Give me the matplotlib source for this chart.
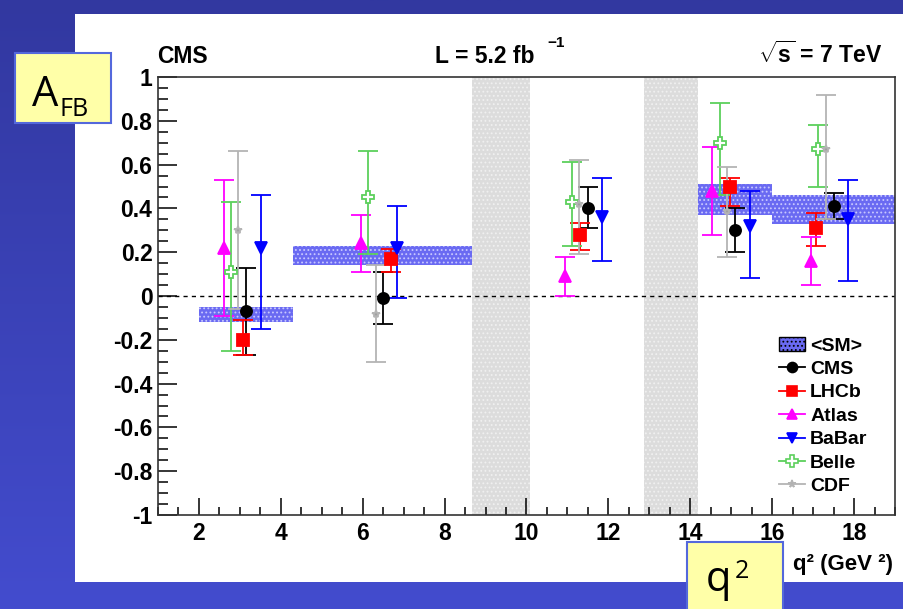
import numpy as np
import matplotlib
matplotlib.use("Agg")
import matplotlib.pyplot as plt
from matplotlib.patches import Rectangle, Patch
from matplotlib.lines import Line2D
from matplotlib.ticker import MultipleLocator

# forward-backward asymmetry per q2 bin, one set of arrays per experiment
cms_q2 = [3.15, 6.50, 11.49, 15.10, 17.51]
cms_afb = [-0.07, -0.01, 0.40, 0.30, 0.41]
cms_lo = [0.20, 0.12, 0.09, 0.10, 0.06]
cms_hi = [0.20, 0.12, 0.10, 0.10, 0.06]

lhcb_q2 = [3.08, 6.68, 11.30, 14.96, 17.08]
lhcb_afb = [-0.20, 0.17, 0.28, 0.50, 0.31]
lhcb_lo = [0.07, 0.06, 0.07, 0.09, 0.08]
lhcb_hi = [0.09, 0.045, 0.055, 0.04, 0.07]

atlas_q2 = [2.61, 5.96, 10.93, 14.54, 16.95]
atlas_afb = [0.22, 0.24, 0.09, 0.48, 0.16]
atlas_lo = [0.31, 0.13, 0.09, 0.20, 0.11]
atlas_hi = [0.31, 0.13, 0.09, 0.20, 0.11]

babar_q2 = [3.52, 6.84, 11.84, 15.45, 17.86]
babar_afb = [0.22, 0.22, 0.36, 0.32, 0.35]
babar_lo = [0.37, 0.23, 0.20, 0.24, 0.28]
babar_hi = [0.24, 0.19, 0.18, 0.16, 0.18]

belle_q2 = [2.79, 6.13, 11.10, 14.72, 17.13]
belle_afb = [0.11, 0.45, 0.43, 0.70, 0.67]
belle_lo = [0.36, 0.26, 0.20, 0.24, 0.17]
belle_hi = [0.32, 0.21, 0.18, 0.18, 0.11]

cdf_q2 = [2.96, 6.32, 11.28, 14.90, 17.31]
cdf_afb = [0.30, -0.08, 0.42, 0.39, 0.67]
cdf_lo = [0.36, 0.22, 0.23, 0.21, 0.32]
cdf_hi = [0.36, 0.22, 0.20, 0.20, 0.25]

# standard model prediction bands
sm_q2_lo = [2.0, 4.3, 14.18, 16.0]
sm_q2_hi = [4.3, 8.68, 16.0, 19.0]
sm_min = [-0.12, 0.14, 0.37, 0.33]
sm_max = [-0.05, 0.23, 0.51, 0.46]

# charmonium veto regions
veto_lo = [8.68, 12.86]
veto_hi = [10.09, 14.18]

W, H = 904, 609
plt.rcParams['font.family'] = ['Liberation Sans', 'DejaVu Sans']
plt.rcParams['mathtext.fontset'] = 'custom'
plt.rcParams['mathtext.rm'] = 'Liberation Sans:bold'
plt.rcParams['mathtext.it'] = 'Liberation Sans:bold'
plt.rcParams['mathtext.bf'] = 'Liberation Sans:bold'
plt.rcParams['hatch.linewidth'] = 0.8


def fx(x):
    return x / W


def fy(y):
    return 1 - y / H


fig = plt.figure(figsize=(W / 100, H / 100), dpi=100)

# slide background
bg = fig.add_axes([0, 0, 1, 1])
grad = np.linspace(0, 1, 256)[:, None, None]
top = np.array([50, 56, 160]) / 255.
bot = np.array([67, 76, 206]) / 255.
bg.imshow(top + (bot - top) * grad, aspect='auto', extent=[0, 1, 0, 1])
bg.axis('off')
fig.add_artist(Rectangle((fx(75), fy(582)), fx(W - 75), (582 - 14) / H,
                         transform=fig.transFigure, fc='white', ec='none', zorder=1))

ax = fig.add_axes([fx(158), fy(515), (895 - 158) / W, (515 - 77) / H])
ax.set_zorder(2)

for a, b in zip(veto_lo, veto_hi):
    ax.axvspan(a, b, facecolor='#dcdcdc', edgecolor='#f0f0f0', hatch='....', lw=0, zorder=1)

for a, b, lo, hi in zip(sm_q2_lo, sm_q2_hi, sm_min, sm_max):
    ax.fill_between([a, b], lo, hi, facecolor='#6a6af2', edgecolor='#c8c8ff',
                    hatch='....', lw=0, zorder=2)

ax.axhline(0, color='black', ls=(0, (3, 3)), lw=1.0, zorder=2.5)

series = [
    (cms_q2, cms_afb, cms_lo, cms_hi, 'black', 'o', 'CMS', 8, 'black'),
    (lhcb_q2, lhcb_afb, lhcb_lo, lhcb_hi, '#ff0000', 's', 'LHCb', 8, '#ff0000'),
    (atlas_q2, atlas_afb, atlas_lo, atlas_hi, '#ff00ff', '^', 'Atlas', 8, '#ff00ff'),
    (babar_q2, babar_afb, babar_lo, babar_hi, '#0000ff', 'v', 'BaBar', 8, '#0000ff'),
    (belle_q2, belle_afb, belle_lo, belle_hi, '#5cd05c', 'P', 'Belle', 9, 'white'),
    (cdf_q2, cdf_afb, cdf_lo, cdf_hi, '#b4b4b4', '*', 'CDF', 6, '#a0a0a0'),
]
handles = [Patch(facecolor='#6a6af2', edgecolor='black', hatch='....', lw=1, label='<SM>')]
for q2, afb, lo, hi, c, m, name, ms, fc in series:
    ax.errorbar(q2, afb, yerr=[lo, hi], fmt=m, color=c, ms=ms, mfc=fc, mec=c,
                mew=1.3, elinewidth=1.3, capsize=7, capthick=1.3, zorder=3)
    handles.append(Line2D([], [], color=c, marker=m, ms=ms * 0.9, mfc=fc, mec=c,
                          mew=1.2, lw=1.3, label=name))

ax.set_xlim(1, 19)
ax.set_ylim(-1, 1)
ax.xaxis.set_major_locator(MultipleLocator(2))
ax.xaxis.set_minor_locator(MultipleLocator(0.5))
ax.yaxis.set_minor_locator(MultipleLocator(0.05))
ax.set_yticks(np.round(np.arange(-1, 1.01, 0.2), 1))
ax.set_yticklabels(['-1', '-0.8', '-0.6', '-0.4', '-0.2', '0', '0.2', '0.4', '0.6', '0.8', '1'])
ax.tick_params(which='both', direction='in', top=False, right=False, width=1.1,
               labelsize=16.5)
ax.tick_params(axis='y', which='major', length=14, pad=4)
ax.tick_params(axis='y', which='minor', length=7)
ax.tick_params(axis='x', which='major', length=12, pad=5)
ax.tick_params(axis='x', which='minor', length=6)
for t in ax.get_xticklabels() + ax.get_yticklabels():
    t.set_fontweight('bold')
for s in ax.spines.values():
    s.set_color('#333333')
    s.set_linewidth(1.2)

ax.legend(handles=handles, loc='upper left', bbox_to_anchor=(fx(779), fy(337)),
          bbox_transform=fig.transFigure, frameon=False, borderpad=0, borderaxespad=0,
          handlelength=1.35, handletextpad=0.25, labelspacing=0.3,
          prop={'weight': 'bold', 'size': 14})

# header texts
fig.text(fx(157), fy(63), 'CMS', fontsize=16.5, weight='bold', zorder=3)
lum = fig.text(fx(435), fy(63), 'L = 5.2 fb', fontsize=16.5, weight='bold', zorder=3)
fig.add_artist(plt.Annotation('\u22121', xy=(1, 0.8), xycoords=lum, xytext=(9, 0),
                              textcoords='offset points', va='bottom', ha='left',
                              fontsize=11, weight='bold', zorder=3))
fig.text(fx(883), fy(63), r'$\sqrt{s}$ = 7 TeV', fontsize=16.5, weight='bold', ha='right', zorder=3)
fig.text(fx(893), fy(570), 'q\u00b2 (GeV \u00b2)', fontsize=16, weight='bold', ha='right', zorder=3)

# yellow labels
fig.add_artist(Rectangle((fx(15), fy(123)), (111 - 15) / W, (123 - 53) / H,
                         transform=fig.transFigure, fc='#ffffa8', ec='#5468dc',
                         lw=1.5, zorder=5))
fig.text(fx(32), fy(106), 'A', fontsize=30, family='Open Sans', zorder=6)
fig.text(fx(59), fy(116), 'FB', fontsize=18, family='Open Sans', zorder=6)
fig.add_artist(Rectangle((fx(687), fy(615)), (783 - 687) / W, (615 - 542) / H,
                         transform=fig.transFigure, fc='#ffffa8', ec='#5468dc',
                         lw=1.5, zorder=5))
fig.text(fx(706), fy(591), 'q', fontsize=30, family='Open Sans', zorder=6)
fig.text(fx(735), fy(578), '2', fontsize=18, family='Open Sans', zorder=6)

fig.savefig('out.png', dpi=100)
